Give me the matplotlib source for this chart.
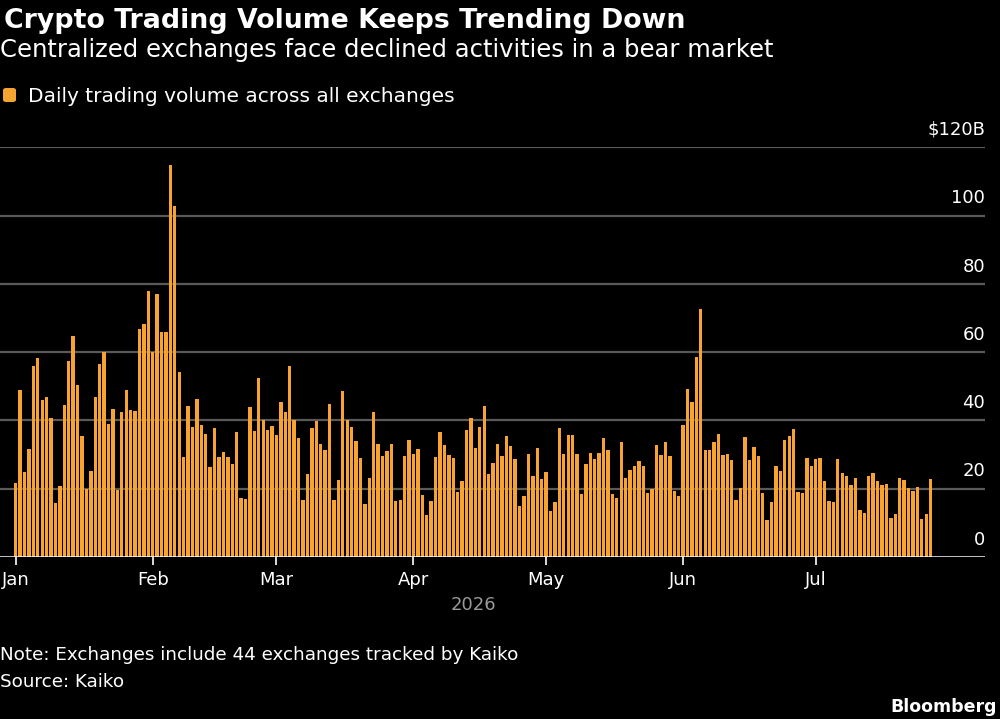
import numpy as np
import pandas as pd
import matplotlib
matplotlib.use("Agg")
import matplotlib.pyplot as plt
from matplotlib.patches import FancyBboxPatch

# daily volume in $B (Jan 1 - Jul 27, 2026)
jan = [21.7, 49, 25, 31.6, 56, 58.4, 45.9, 47, 40.6, 15.7, 20.8, 44.6, 57.3, 64.7, 50.3, 35.4,
       20, 25.2, 47, 56.5, 60.1, 39, 43.3, 19.6, 42.4, 48.9, 43.2, 42.9, 66.7, 68.1, 77.8]
feb = [60.1, 76.9, 66, 66, 114.7, 102.7, 54.1, 29.4, 44.3, 38, 46.3, 38.7, 36, 26.5, 37.9, 29.2,
       30.9, 29.2, 27.3, 36.6, 17.4, 17.1, 44, 36.8, 52.5, 40.1, 37.3, 38.4]
mar = [35.8, 45.3, 42.5, 55.8, 40.2, 35, 16.6, 24.4, 37.8, 39.7, 33.1, 31.4, 44.7, 16.8, 22.6, 48.5,
       40.2, 38.1, 34.1, 29, 15.6, 23, 42.5, 33.1, 29.5, 31.1, 33.2, 16.4, 16.6, 29.7, 34.3]
apr = [30.1, 31.7, 18.2, 12.4, 16.4, 29.4, 36.6, 32.8, 30, 29, 18.9, 22.4, 37.1, 40.8, 32, 38,
       44.3, 24.4, 27.5, 33.1, 29.7, 35.3, 32.5, 28.7, 14.8, 17.8, 30.2, 23.7, 31.8, 22.8]
may = [24.8, 13.5, 16, 37.7, 30.1, 35.7, 35.6, 30.1, 18.4, 27.1, 30.6, 28.7, 30.6, 35, 31.2, 18.4,
       17.4, 33.8, 23, 25.5, 26.7, 28.2, 26.8, 18.8, 20, 32.9, 29.9, 33.8, 29.7, 19.4, 17.9]
jun = [38.8, 49.1, 45.3, 58.7, 72.7, 31.4, 31.2, 33.8, 36.1, 30, 30.2, 28.5, 16.8, 20.2, 35.2,
       28.4, 32.2, 29.6, 18.6, 10.9, 16, 26.7, 25.1, 34.2, 35.3, 37.4, 19.1, 18.8, 29.1, 26.6]
jul = [28.8, 29.1, 22.4, 16.3, 16, 28.7, 24.7, 23.7, 21.2, 23.1, 13.9, 13, 23.8, 24.7, 22.4,
       21.2, 21.5, 11.4, 12.6, 23.2, 22.5, 20.2, 19.2, 20.6, 11.1, 12.6, 22.7]

volume = np.array(jan + feb + mar + apr + may + jun + jul)
dates = pd.date_range("2026-01-01", periods=len(volume), freq="D")
month_starts = pd.date_range("2026-01-01", "2026-07-01", freq="MS")
month_labels = ["Jan", "Feb", "Mar", "Apr", "May", "Jun", "Jul"]
y_ticks = [0, 20, 40, 60, 80, 100, 120]
y_labels = ["0", "20", "40", "60", "80", "100", "$120B"]

ORANGE = "#F7A331"
plt.rcParams["font.family"] = ["DejaVu Sans"]

day = (dates - dates[0]).days.values
tick_days = (month_starts - dates[0]).days.values

fig = plt.figure(figsize=(10, 7.19), dpi=100, facecolor="black")
ax = fig.add_axes([0.0, 1 - 557 / 719, 0.985, (557 - 147.3) / 719])
ax.set_facecolor("black")

ax.bar(day, volume, width=0.76, color=ORANGE, linewidth=0, zorder=2)

ax.set_ylim(0, 120)
ax.set_xlim(-3.55, 219.3)
for v in y_ticks[1:]:
    ax.axhline(v, color="#5a5a5a", lw=1.6, zorder=1)
ax.axhline(0, color="white", lw=1.8, zorder=3)

# y labels sit above the gridlines, right aligned
tr = ax.get_yaxis_transform()
for v, s in zip(y_ticks, y_labels):
    ax.annotate(s, xy=(1.0, v), xycoords=tr, xytext=(0, 6), textcoords="offset points",
                ha="right", va="bottom", color="white", fontsize=13)

ax.set_yticks([])
ax.set_xticks(tick_days)
ax.set_xticklabels(month_labels, color="white", fontsize=13)
ax.tick_params(axis="x", colors="white", length=6, width=1.2, pad=4)
for s in ax.spines.values():
    s.set_visible(False)

fig.text(473 / 1000, 1 - 605 / 719, "2026", color="#9a9a9a", fontsize=13, ha="center", va="center")

fig.text(0.004, 1 - 28 / 719, "Crypto Trading Volume Keeps Trending Down", color="white",
         fontsize=19.3, fontweight="bold", ha="left", va="baseline")
fig.text(0.0, 1 - 57 / 719, "Centralized exchanges face declined activities in a bear market",
         color="white", fontsize=17.5, ha="left", va="baseline")

sq = FancyBboxPatch((3 / 1000, 1 - 102 / 719), 13 / 1000, 14 / 719,
                    boxstyle="round,pad=0,rounding_size=0.003", transform=fig.transFigure,
                    facecolor=ORANGE, edgecolor="none")
fig.patches.append(sq)
fig.text(28 / 1000, 1 - 102 / 719, "Daily trading volume across all exchanges", color="white",
         fontsize=14.5, ha="left", va="baseline")

fig.text(0.0, 1 - 660 / 719, "Note: Exchanges include 44 exchanges tracked by Kaiko", color="white",
         fontsize=13.2, ha="left", va="baseline")
fig.text(0.0, 1 - 687 / 719, "Source: Kaiko", color="white", fontsize=13.2, ha="left", va="baseline")
fig.text(0.997, 1 - 712 / 719, "Bloomberg", color="white", fontsize=12.5, fontweight="bold",
         ha="right", va="baseline")

fig.savefig("out.png", dpi=100, facecolor="black")
